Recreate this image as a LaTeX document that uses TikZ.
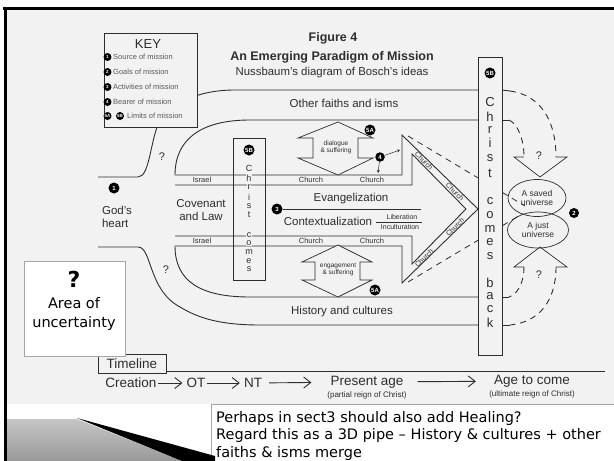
\documentclass[tikz,border=0pt]{standalone}
\usepackage{fontspec}
\setmainfont{Liberation Sans}
\newfontfamily\slidefont{DejaVu Sans}
\usetikzlibrary{arrows.meta,shapes.geometric}
\definecolor{scanbg}{gray}{0.95}
\definecolor{ink}{gray}{0.18}
\tikzset{
  pipe/.style={draw=ink, line width=0.9pt},
  numdot/.style={circle, fill=black, text=white, inner sep=0pt, minimum size=11pt, font=\fontsize{6}{6}\selectfont\bfseries},
  keydot/.style={numdot, minimum size=8pt, font=\fontsize{4.5}{4.5}\selectfont\bfseries},
  keytext/.style={anchor=west, inner sep=0pt, text=gray!70!black, font=\fontsize{7.5}{8}\selectfont},
  tinytext/.style={font=\fontsize{7.5}{8}\selectfont, text=ink, inner sep=0.5pt},
  difftext/.style={tinytext, font=\fontsize{7}{7}\selectfont, inner sep=0pt},
  pipetext/.style={font=\fontsize{11.5}{13.5}\selectfont, text=ink},
  colletter/.style={font=\fontsize{13}{13}\selectfont, text=ink, inner sep=0.5pt},
  smallletter/.style={font=\fontsize{9}{9}\selectfont, text=ink, fill=scanbg, inner sep=0.4pt},
  timetext/.style={font=\fontsize{13.5}{14}\selectfont, text=ink, inner sep=1pt},
  reigntext/.style={font=\fontsize{8}{8}\selectfont, text=ink, inner sep=0pt},
  timearrow/.style={pipe, -{Straight Barb[length=7pt,width=11pt]}},
  slidebox/.style={draw=gray!70, fill=white, line width=0.6pt, inner sep=0pt},
}
\begin{document}
\begin{tikzpicture}[x=1pt, y=-1pt]
\useasboundingbox (0,0) rectangle (614,461);
\fill[white] (0,0) rectangle (614,461);
\fill[scanbg] (7,10) rectangle (614,404);
\draw[line width=2.6pt] (3,8.5) -- (614,8.5);
\draw[line width=2.4pt] (5.5,8) -- (5.5,461);

\node[font=\bfseries\fontsize{12.5}{14}\selectfont, text=ink] (fig) at (333,38) {Figure 4};
\node[font=\bfseries\fontsize{12.5}{14}\selectfont, text=ink] (title) at (332,57) {An Emerging Paradigm of Mission};
\node[font=\fontsize{11.4}{13}\selectfont, text=ink] (subtitle) at (332,73) {Nussbaum's diagram of Bosch's ideas};

\draw[pipe] (98,177) -- (138,177) .. controls (150,177) and (150,140) .. (160,120) .. controls (172,105) and (195,90) .. (235,90) -- (478,90);
\draw[pipe] (175,175) .. controls (175,140) and (200,120) .. (250,120) -- (478,120);
\draw[pipe] (175,246) .. controls (175,281) and (200,297) .. (250,297) -- (478,297);
\draw[pipe] (98,247) -- (138,247) .. controls (152,247) and (148,290) .. (180,307) .. controls (198,318) and (220,325) .. (260,325) -- (478,325);

\node[draw=ink, fill=scanbg, line width=0.6pt, minimum width=93pt, minimum height=94pt, inner sep=0pt] (key) at (150.5,80) {};
\node[font=\fontsize{13}{13}\selectfont, text=ink] (keyhead) at (148,44) {KEY};
\node[keydot] (k1) at (107.5,57) {1};
\node[keytext] at (113,57) {Source of mission};
\node[keydot] (k2) at (107.5,72) {2};
\node[keytext] at (113,72) {Goals of mission};
\node[keydot] (k3) at (107.5,87) {3};
\node[keytext] at (113,87) {Activities of mission};
\node[keydot] (k4) at (107.5,102) {4};
\node[keytext] at (113,102) {Bearer of mission};
\node[keydot] (k5a) at (107.5,116) {5A};
\node[keydot] (k5b) at (120,116) {5B};
\node[keytext] at (127,116) {Limits of mission};

\node[pipetext] (faiths) at (344,103) {Other faiths and isms};
\node[pipetext] (history) at (342,312) {History and cultures};
\node[font=\fontsize{11}{11}\selectfont, text=ink] (q1) at (162,157) {?};
\node[font=\fontsize{11}{11}\selectfont, text=ink] (q2) at (166,270) {?};
\node[numdot] (d1) at (114,188) {1};
\node[pipetext, align=left] (heart) at (117,217) {God's\\heart};
\node[pipetext, align=center] (covenant) at (201,210) {Covenant\\and Law};

\draw[pipe] (175,175) -- (402,175) -- (402,135) -- (478,209) -- (402,283) -- (402,246) -- (175,246);
\draw[pipe] (175,185) -- (412,185) -- (412,154) -- (466,209) -- (412,264) -- (412,236) -- (175,236);
\draw[pipe] (233,138) rectangle (265,280);
\node[numdot] (d5bs) at (249,150) {5B};
\foreach \ch/\yy in {C/168, h/178, r/187, i/197, s/206, t/215, c/235, o/243, m/252, e/261, s/269}
  \node[smallletter] (sc\yy) at (249,\yy) {\ch};

\node[tinytext] (is1) at (202,180) {Israel};
\node[tinytext] (is2) at (202,241) {Israel};
\node[tinytext] (ch1) at (311,180) {Church};
\node[tinytext] (ch2) at (372,180) {Church};
\node[tinytext] (ch3) at (311,241) {Church};
\node[tinytext] (ch4) at (372,241) {Church};
\node[difftext, rotate=-45] (ch5) at (424,161) {Church};
\node[difftext, rotate=-45] (ch6) at (455,192) {Church};
\node[difftext, rotate=45] (ch7) at (455,227) {Church};
\node[difftext, rotate=45] (ch8) at (424,258) {Church};

\node[numdot] (d3) at (277,209) {3};
\draw[pipe, line width=0.7pt] (d3) -- (421,209);
\node[pipetext] (evang) at (351,199) {Evangelization};
\node[pipetext] (context) at (328,221) {Contextualization};
\draw[ink, line width=0.5pt] (376,222) -- (422,222);
\node[difftext] (lib) at (402,217) {Liberation};
\node[difftext] (incult) at (400,227) {Inculturation};

\draw[pipe, fill=scanbg, line width=0.7pt] (338,122) -- (373,138) -- (358,138) -- (358,158) -- (373,158) -- (338,175) -- (298,158) -- (313,158) -- (313,138) -- (298,138) -- cycle;
\node[tinytext, font=\fontsize{6.5}{7}\selectfont, align=center] (dialogue) at (336,147) {dialogue\\\& suffering};
\draw[pipe, fill=scanbg, line width=0.7pt] (338,245) -- (372,262) -- (360,262) -- (360,280) -- (372,280) -- (338,297) -- (302,280) -- (315,280) -- (315,262) -- (302,262) -- cycle;
\node[tinytext, font=\fontsize{6.5}{7}\selectfont, align=center] (engage) at (338,270) {engagement\\\& suffering};
\node[numdot] (d5a1) at (370,130) {5A};
\node[numdot] (d5a2) at (375,290) {5A};
\node[numdot, minimum size=9.5pt] (d4) at (380,157) {4};
\draw[ink, line width=0.5pt, -{Stealth[length=3pt,width=3pt]}] (d4) -- (400,150);
\draw[ink, line width=0.5pt, -{Stealth[length=3pt,width=3pt]}] (d4) -- (378,173);

\draw[pipe, line width=0.8pt, dash pattern=on 6pt off 5pt] (408,136) -- (525,206);
\draw[pipe, line width=0.8pt, dash pattern=on 6pt off 5pt] (408,282) -- (522,214);

\node[draw=ink, fill=scanbg, line width=0.9pt, minimum width=24pt, minimum height=298pt, inner sep=0pt] (colB) at (490,206) {};
\node[numdot] (d5b) at (490,73) {5B};
\foreach \ch/\yy in {C/102, h/117, r/130, i/143, s/158, t/173, c/201, o/215, m/229, e/242, s/256, b/283, a/296, c/309, k/323}
  \node[colletter] (cb\yy) at (490,\yy) {\ch};

\draw[pipe] (502,90) -- (510,91);
\draw[pipe, dash pattern=on 6pt off 5pt] (510,91) .. controls (540,95) and (556,120) .. (556,157);
\draw[pipe] (502,120) -- (509,120);
\draw[pipe, dash pattern=on 6pt off 5pt] (509,120) .. controls (518,124) and (524,140) .. (524,157);
\draw[pipe, line width=0.7pt] (524,157) -- (514,157) -- (540,177) -- (567,157) -- (556,157);
\node[font=\fontsize{11}{11}\selectfont, text=ink] (q3) at (539,156) {?};
\draw[pipe, line width=0.7pt] (524,267) -- (514,267) -- (540,247) -- (567,267) -- (556,267);
\node[font=\fontsize{11}{11}\selectfont, text=ink] (q4) at (539,275) {?};
\draw[pipe, dash pattern=on 6pt off 5pt] (524,267) .. controls (524,282) and (518,294) .. (509,297);
\draw[pipe] (509,297) -- (502,297);
\draw[pipe, dash pattern=on 6pt off 5pt] (556,267) .. controls (556,300) and (540,322) .. (510,325);
\draw[pipe] (510,325) -- (502,325);

\node[ellipse, draw=ink, line width=0.7pt, minimum width=58pt, minimum height=37pt, inner sep=0pt, align=center, font=\fontsize{8.5}{9.5}\selectfont, text=ink] (saved) at (537,198) {A saved\\universe};
\node[ellipse, draw=ink, line width=0.7pt, minimum width=61pt, minimum height=36pt, inner sep=0pt, align=center, font=\fontsize{8.5}{9.5}\selectfont, text=ink] (just) at (538,230) {A just\\universe};
\node[numdot, minimum size=10pt] (d2) at (574,213) {2};

\node[draw=ink, fill=scanbg, line width=0.7pt, timetext, minimum width=68pt, minimum height=19pt, inner sep=0pt] (tl) at (132,363.5) {Timeline};
\draw[pipe] (tl.east |- 0,371) -- (605,371);
\node[timetext] (creation) at (131,383) {Creation};
\node[timetext] (ot) at (196,383) {OT};
\node[timetext] (nt) at (253,383) {NT};
\node[timetext] (present) at (367,382) {Present age};
\node[timetext] (future) at (532,381) {Age to come};
\node[reigntext] (partial) at (367,395) {(partial reign of Christ)};
\node[reigntext] (ultimate) at (532,394) {(ultimate reign of Christ)};
\draw[timearrow, shorten >=3pt] (creation) -- (ot);
\draw[timearrow, shorten >=3pt] (ot) -- (nt);
\draw[timearrow, shorten <=6pt, shorten >=18pt] (nt) -- (present);
\draw[timearrow, shorten <=13pt, shorten >=17pt] (present) -- (future);

\node[slidebox, minimum width=101pt, minimum height=95pt] (unc) at (74.5,308.5) {};
\node[font=\slidefont\bfseries\fontsize{22}{22}\selectfont] (uncq) at (74,279) {?};
\node[font=\slidefont\fontsize{14.5}{19}\selectfont, align=center] (unctext) at (74,314) {Area of\\uncertainty};

\node[slidebox, anchor=north west, minimum width=410pt, minimum height=62pt] (note) at (211,404) {};
\node[anchor=north west, align=left, inner sep=0pt, font=\slidefont\fontsize{14.5}{17.5}\selectfont] (notetext) at (216,411) {Perhaps in sect3 should also add Healing?\\Regard this as a 3D pipe – History \& cultures + other\\faiths \& isms merge};

\shade[top color=gray!45, bottom color=gray!80] (6,419) -- (77,419) -- (182,461) -- (6,461) -- cycle;
\fill[black] (77,418) -- (215,456) -- (215,461) -- (182,461) -- cycle;
\draw[line width=2.4pt] (5.5,400) -- (5.5,461);
\end{tikzpicture}
\end{document}
